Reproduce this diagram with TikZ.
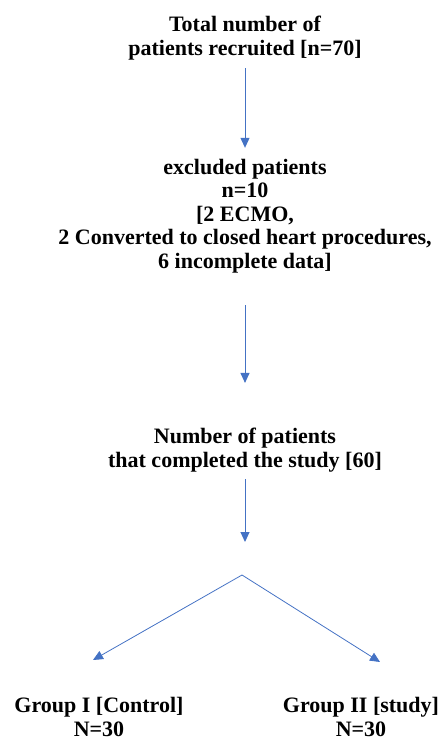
\documentclass[tikz,border=0pt]{standalone}
\usepackage{fontspec}
\setmainfont{Liberation Serif}
\usetikzlibrary{arrows.meta}
\definecolor{flowblue}{RGB}{68,114,196}

\begin{document}
\begin{tikzpicture}[
      x=1pt, y=-1pt,
      Label/.style={
        align=center, inner sep=0pt,
        font=\fontsize{22}{23.5}\selectfont\bfseries,
      },
      Flow/.style={
        draw=flowblue, line width=1pt,
        -{Triangle[length=10pt,width=9pt]},
      },
      ]
      \useasboundingbox (0,0) rectangle (440,751);

      \node[Label] (total) at (245, 38) {Total number of\\patients recruited [n=70]};
      \node[Label] (excl) at (245, 216) {excluded patients\\n=10\\{}[2 ECMO,\\2 Converted to closed heart procedures,\\6 incomplete data]};
      \node[Label] (done) at (245, 450) {Number of patients\\that completed the study [60]};

      \node[Label] (grpI) at (99, 717) {Group I [Control]\\N=30};
      \node[Label] (grpII) at (361, 717) {Group II [study]\\N=30};

      \coordinate (split) at (242, 575);
      \coordinate (tipI) at (93, 660);
      \coordinate (tipII) at (380, 662);

      \draw[Flow, shorten <=8pt, shorten >=11pt] (total) -- (excl);
      \draw[Flow, shorten <=32pt, shorten >=45pt] (excl) -- (done);
      \draw[Flow, shorten <=7pt, shorten >=33pt] (done) -- (done |- split);
      \draw[Flow, line width=0.8pt] (split) -- (tipI);
      \draw[Flow, line width=0.8pt] (split) -- (tipII);
    \end{tikzpicture}
\end{document}
